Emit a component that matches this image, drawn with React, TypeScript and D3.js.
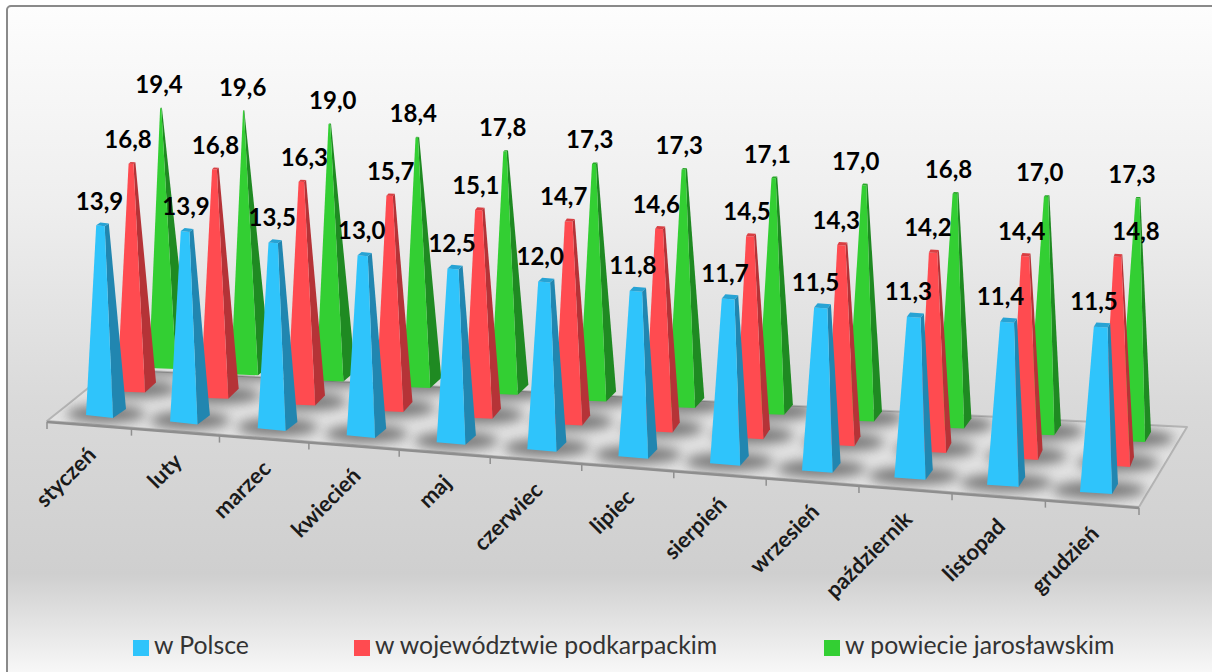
import React from 'react';
import * as d3 from 'd3';

const categories = ['styczeń','luty','marzec','kwiecień','maj','czerwiec','lipiec','sierpień','wrzesień','październik','listopad','grudzień'];
const wPolsce = [13.9,13.9,13.5,13.0,12.5,12.0,11.8,11.7,11.5,11.3,11.4,11.5];
const wWojewodztwie = [16.8,16.8,16.3,15.7,15.1,14.7,14.6,14.5,14.3,14.2,14.4,14.8];
const wPowiecie = [19.4,19.6,19.0,18.4,17.8,17.3,17.3,17.1,17.0,16.8,17.0,17.3];
const seriesNames = ['w Polsce','w województwie podkarpackim','w powiecie jarosławskim'];

const W = 1212, H = 672;
const AXIS_MAX = 20.3;
const FONT = 'Lato, Carlito, Calibri, sans-serif';

type P = [number, number];
const lerp = (a: number, b: number, t: number) => a + (b - a) * t;
const add = (a: P, b: P, k = 1): P => [a[0] + b[0] * k, a[1] + b[1] * k];
const path = (pts: P[]) => 'M' + pts.map(p => p[0].toFixed(1) + ',' + p[1].toFixed(1)).join('L') + 'Z';

// Perspective spacing along the front of the floor
const catT = d3.scalePow().exponent(1.03).domain([0, 11]).range([0, 1]);
const tickT = d3.scalePow().exponent(1.03).domain([0, 12]).range([0, 1]);

const floorCorners = { fl: [47, 421] as P, fr: [1139, 507] as P, br: [1187, 427] as P, bl: [112, 369] as P };

const geometry = [
  { values: wPolsce, c0: [106, 412] as P, c1: [1099, 488] as P, w: [[27, 3], [32, 2]] as P[], d: [[13, -9], [6, -10]] as P[], k: [13.5, 14.17], lean: [-3.5, 3],
    front: '#2fc4fb', side: '#2186b0', cap: '#27a3d4', labelDx: [-3,-1,-3,-3,-3,-6,-5,-5,-7,-7,-8,-8], labelDy: -21 },
  { values: wWojewodztwie, c0: [136.5, 387] as P, c1: [1118, 461] as P, w: [[28, 1], [28, 2]] as P[], d: [[11, -10], [4, -10]] as P[], k: [13.33, 13.9], lean: [-4.5, 0],
    front: '#ff4b50', side: '#b53337', cap: '#d93f43', labelDx: [-4,0,2,0,-4,-6,-4,-4,-6,-6,-4,18], labelDy: -21 },
  { values: wPowiecie, c0: [169, 363.5] as P, c1: [1134.5, 436.5] as P, w: [[27, 1], [27, 1]] as P[], d: [[13, -10], [6, -10]] as P[], k: [13.17, 13.8], lean: [-8, 3.5],
    front: '#33cf33', side: '#1f8a22', cap: '#28a828', labelDx: [-2,-1,3,-4,-3,-5,-5,-7,-9,-7,-7,-6], labelDy: -21 },
];

function frustum(s: typeof geometry[number], i: number) {
  const t = catT(i) as number;
  const c: P = [lerp(s.c0[0], s.c1[0], t), lerp(s.c0[1], s.c1[1], t)];
  const w: P = [lerp(s.w[0][0], s.w[1][0], t), lerp(s.w[0][1], s.w[1][1], t)];
  const d: P = [lerp(s.d[0][0], s.d[1][0], t), lerp(s.d[0][1], s.d[1][1], t)];
  const v = s.values[i];
  const k = lerp(s.k[0], s.k[1], t);
  const top: P = [c[0] + lerp(s.lean[0], s.lean[1], t), c[1] - v * k];
  const r = 1 - v / AXIS_MAX;
  const off = (sw: number, sd: number): P => [(sw * w[0] + sd * d[0]) / 2, (sw * w[1] + sd * d[1]) / 2];
  const fl = off(-1, -1), fr = off(1, -1), br = off(1, 1), bl = off(-1, 1);
  return {
    c, top, w,
    front: [add(c, fl), add(c, fr), add(top, fr, r), add(top, fl, r)],
    side: [add(c, fr), add(c, br), add(top, br, r), add(top, fr, r)],
    cap: [add(top, fl, r), add(top, fr, r), add(top, br, r), add(top, bl, r)],
  };
}

export default function App() {
  const { fl, fr, br, bl } = floorCorners;
  const order = [2, 1, 0];
  const tickIdx = d3.range(13);
  const tickPt = (i: number): P => {
    const t = tickT(i) as number;
    return [lerp(fl[0], fr[0], t), lerp(fl[1], fr[1], t)];
  };
  const legendX = [133, 354, 824];
  return (
    <svg width={W} height={H} style={{ position: 'absolute', left: 0, top: 0, background: '#fff' }}>
      <defs>
        <linearGradient id="bg" gradientUnits="userSpaceOnUse" x1="0" y1="6" x2="0" y2="674">
          <stop offset="0" stopColor="#fdfdfd" />
          <stop offset="0.3" stopColor="#eeeeee" />
          <stop offset="0.6" stopColor="#d9d9d9" />
          <stop offset="0.85" stopColor="#cfcfcf" />
          <stop offset="1" stopColor="#f8f8f8" />
        </linearGradient>
        <filter id="blur" x="-60%" y="-60%" width="220%" height="220%">
          <feGaussianBlur stdDeviation="6" />
        </filter>
        <clipPath id="floorClip"><path d={path([fl, fr, br, bl])} /></clipPath>
      </defs>
      <rect x={7} y={6} width={1230} height={700} rx={4} fill="url(#bg)" stroke="#8a8a8a" strokeWidth={2} />

      <path d={path([fl, fr, br, bl])} fill="#e2e2e2" stroke="#b4b4b4" strokeWidth={2} strokeLinejoin="round" />
      <g clipPath="url(#floorClip)">
        <g filter="url(#blur)" opacity={0.72}>
          {order.flatMap(si => categories.map((_, i) => {
            const f = frustum(geometry[si], i);
            return <ellipse key={si + '-' + i} cx={f.c[0]} cy={f.c[1] + 2} rx={f.w[0] * 1.45} ry={9} fill="#555" />;
          }))}
        </g>
      </g>
      <line x1={fl[0]} y1={fl[1] + 1} x2={fr[0]} y2={fr[1] + 1} stroke="#8e8e8e" strokeWidth={2.5} />
      {tickIdx.map(i => {
        const p = tickPt(i);
        return <line key={i} x1={p[0]} y1={p[1] + 1} x2={p[0]} y2={p[1] + 8} stroke="#8f8f8f" strokeWidth={1.5} />;
      })}

      {order.map(si => (
        <g key={si}>
          {categories.map((_, i) => {
            const f = frustum(geometry[si], i);
            return (
              <g key={i}>
                <path d={path(f.side)} fill={geometry[si].side} />
                <path d={path(f.front)} fill={geometry[si].front} />
                <path d={path(f.cap)} fill={geometry[si].cap} />
              </g>
            );
          })}
        </g>
      ))}

      {categories.map((c, i) => {
        const a = tickPt(i), b = tickPt(i + 1);
        const x = (a[0] + b[0]) / 2 + 4;
        const y = (a[1] + b[1]) / 2 + 28;
        return (
          <text key={c} transform={`translate(${x},${y}) rotate(-45)`} textAnchor="end" dominantBaseline="middle"
            fontFamily={FONT} fontWeight={700} fontSize={22} fill="#1a1a1a">{c}</text>
        );
      })}

      {order.map(si => categories.map((_, i) => {
        const s = geometry[si];
        const f = frustum(s, i);
        return (
          <text key={si + 'l' + i} x={f.top[0] + s.labelDx[i]} y={f.top[1] + s.labelDy} textAnchor="middle" dominantBaseline="middle"
            fontFamily={FONT} fontWeight={700} fontSize={24} fill="#000">{s.values[i].toFixed(1).replace('.', ',')}</text>
        );
      }))}

      {seriesNames.map((n, i) => (
        <g key={n}>
          <rect x={legendX[i]} y={640} width={16} height={16} fill={geometry[i].front} />
          <text x={legendX[i] + 21} y={648} dominantBaseline="middle" fontFamily={FONT} fontSize={24.8} fill="#333">{n}</text>
        </g>
      ))}
    </svg>
  );
}
